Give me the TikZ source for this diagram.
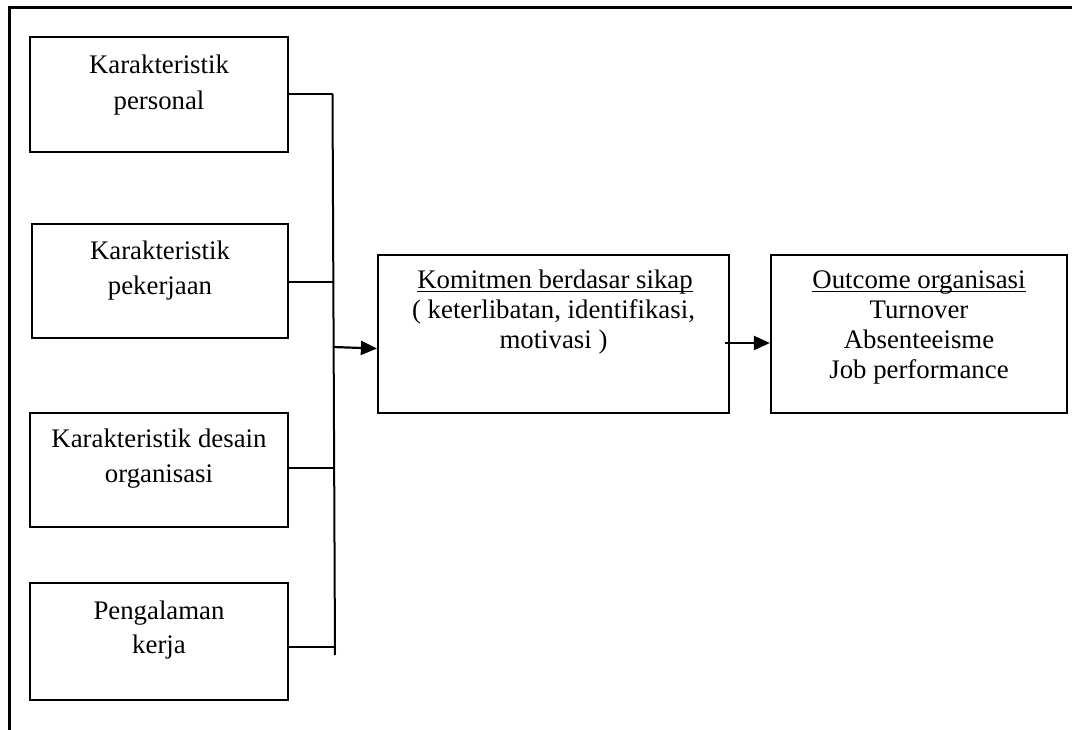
\documentclass[tikz,border=0pt]{standalone}
\usepackage{fontspec}
\setmainfont{Liberation Serif}
\usetikzlibrary{arrows.meta}
\newcommand\myul[1]{{\setbox0\hbox{#1}\rlap{\rule[-3.5pt]{\wd0}{1.4pt}}\box0}}
\tikzset{
  box/.style={draw, line width=2.2pt, rectangle, inner sep=0pt},
  lbl/.style={anchor=base, inner sep=0pt, font=\fontsize{26.8}{30}\selectfont},
  conn/.style={line width=2pt},
  arr/.style={line width=2.2pt, -{Triangle[length=16pt,width=14pt]}},
  frame/.style={line width=2.2pt}
}
\begin{document}
\begin{tikzpicture}[x=1pt,y=-1pt]
\useasboundingbox (0,0) rectangle (1072,729);
% outer frame (top and left only visible)
\coordinate (fa) at (9.5,740);
\coordinate (fb) at (9.5,7.5);
\coordinate (fc) at (1080,7.5);
\draw[frame] (fa) -- (fb) -- (fc);
% left boxes
\node[box, minimum width=258pt, minimum height=115pt] (b1) at (159,94.5) {};
\node[box, minimum width=256pt, minimum height=114pt] (b2) at (160,281) {};
\node[box, minimum width=258pt, minimum height=114pt] (b3) at (159,470) {};
\node[box, minimum width=258pt, minimum height=117pt] (b4) at (159,641.5) {};
% center and right boxes
\node[box, minimum width=351pt, minimum height=158pt] (c) at (553.5,334) {};
\node[box, minimum width=296pt, minimum height=158pt] (r) at (919,334) {};
% texts
\node[lbl] (t1a) at (159,73) {Karakteristik};
\node[lbl] (t1b) at (159,109) {personal};
\node[lbl] (t2a) at (160,259) {Karakteristik};
\node[lbl] (t2b) at (160,294) {pekerjaan};
\node[lbl] (t3a) at (159,447) {Karakteristik desain};
\node[lbl] (t3b) at (159,482) {organisasi};
\node[lbl] (t4a) at (159,619) {Pengalaman};
\node[lbl] (t4b) at (159,653) {kerja};
\node[lbl] (tc1) at (555,288.5) {\myul{Komitmen berdasar sikap}};
\node[lbl] (tc2) at (553.5,318.5) {( keterlibatan, identifikasi,};
\node[lbl] (tc3) at (553.5,348.5) {motivasi )};
\node[lbl] (tr1) at (919,288.5) {\myul{Outcome organisasi}};
\node[lbl] (tr2) at (919,318.5) {Turnover};
\node[lbl] (tr3) at (919,348.5) {Absenteeisme};
\node[lbl] (tr4) at (919,378.5) {Job performance};
% bus
\coordinate (bt) at (332.5,94);
\coordinate (bb) at (335,655);
\coordinate (j2) at (333.2,282);
\coordinate (j3) at (334,468);
\coordinate (j4) at (335,647);
\coordinate (ja) at (333,347);
\draw[conn] (bt) -- (bb);
\draw[conn] (b1.east |- bt) -- (bt);
\draw[conn] (b2.east |- j2) -- (j2);
\draw[conn] (b3.east |- j3) -- (j3);
\draw[conn] (b4.east |- j4) -- (j4);
\draw[arr] (ja) -- (c.west |- 0,348.5);
\coordinate (a2) at (725,343);
\draw[arr] (a2) -- (r.west |- a2);
\end{tikzpicture}
\end{document}
